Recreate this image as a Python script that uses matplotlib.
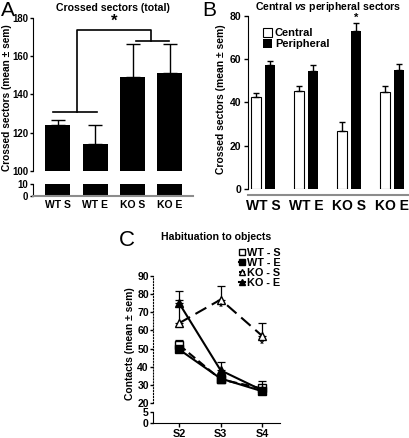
import matplotlib
matplotlib.use("Agg")
from matplotlib import pyplot as plt

plt.rcParams['font.family'] = ['Liberation Sans', 'DejaVu Sans']
plt.rcParams['font.weight'] = 'bold'
plt.rcParams['mathtext.fontset'] = 'custom'
plt.rcParams['mathtext.bfit'] = 'Liberation Sans:italic:bold'
plt.rcParams['mathtext.it'] = 'Liberation Sans:italic'
plt.rcParams['mathtext.bf'] = 'Liberation Sans:bold'

# ---- data ----
groups = ['WT S', 'WT E', 'KO S', 'KO E']
total = [123.8, 114, 149.4, 151.3]
total_err = [2.7, 10, 17, 15]

central = [42.7, 45.5, 27, 45]
central_err = [1.8, 2.2, 3.8, 2.6]
peripheral = [57.1, 54.5, 73, 55]
peripheral_err = [2.0, 2.6, 3.5, 2.6]

sessions = ['S2', 'S3', 'S4']
wt_s = [52, 33, 28]
wt_s_err = [3, 1.5, 2]
wt_e = [49.5, 33.5, 26.5]
wt_e_err = [1.5, 1, 2]
ko_s = [64, 77, 57]
ko_s_err = [13, 7.5, 7]
ko_e = [75, 38, 27]
ko_e_err = [7, 4.5, 5]

fig = plt.figure(figsize=(4.1, 4.38), dpi=100)
W, H = 410.0, 438.0

def box(x0, x1, ytop, ybot):
    return [x0 / W, 1 - ybot / H, (x1 - x0) / W, (ybot - ytop) / H]

grey = '#8c8c8c'
lab_fs = 7.4
pos = list(range(len(groups)))

# ---- Panel A ----
axA = fig.add_axes(box(33, 193, 18.3, 170.7))
axA2 = fig.add_axes(box(33, 193, 183.7, 196))
for ax in (axA, axA2):
    ax.bar(pos, total, width=0.67, color='black')
    ax.set_xlim(-0.67, 3.62)
    ax.spines['top'].set_visible(False)
    ax.spines['right'].set_visible(False)
    ax.tick_params(labelsize=6.9, width=1, length=2.5, pad=1)
axA.errorbar(pos, total, yerr=[[0] * 4, total_err], fmt='none', ecolor='black',
             elinewidth=1, capsize=5, capthick=1)
axA.set_ylim(100, 180)
axA.set_yticks([100, 120, 140, 160, 180])
axA.spines['bottom'].set_visible(False)
axA.set_xticks([])
axA2.set_ylim(0, 10)
axA2.set_yticks([0, 10])
axA2.spines['bottom'].set_color(grey)
axA2.spines['bottom'].set_linewidth(1.5)
axA2.tick_params(axis='x', length=0, pad=3, labelsize=7.5)
axA2.set_xticks(pos)
axA2.set_xticklabels(groups, fontweight='bold')
axA.set_ylabel('Crossed sectors (mean \u00b1 sem)', fontsize=7.3, fontweight='bold')
axA.yaxis.set_label_coords(-0.13, 0.48)
axA.set_title('Crossed sectors (total)', fontsize=7.6, fontweight='bold', pad=5)
# significance bracket
axA.plot([-0.13, 1.05], [131, 131], color='black', lw=1.2)
axA.plot([0.5, 0.5, 2.5, 2.5], [131, 174, 174, 168], color='black', lw=1.2)
axA.plot([2.1, 2.98], [168, 168], color='black', lw=1.2)
axA.text(1.5, 174.5, '*', fontsize=12, ha='center', va='bottom')
fig.text(0.002, 0.998, 'A', fontsize=15, fontweight='normal', va='top')

# ---- Panel B ----
axB = fig.add_axes(box(248, 409, 15.7, 189.3))
off = 0.167
axB.bar([p - off for p in pos], central, width=0.233, color='white', edgecolor='black',
        linewidth=0.8, label='Central')
axB.bar([p + off for p in pos], peripheral, width=0.233, color='black', label='Peripheral')
axB.errorbar([p - off for p in pos], central, yerr=[[0] * 4, central_err], fmt='none',
             ecolor='black', elinewidth=1, capsize=2.5, capthick=1)
axB.errorbar([p + off for p in pos], peripheral, yerr=[[0] * 4, peripheral_err], fmt='none',
             ecolor='black', elinewidth=1, capsize=2.5, capthick=1)
axB.text(2 + off, peripheral[2] + peripheral_err[2] + 0.3, '*', ha='center', va='bottom', fontsize=8)
axB.set_xlim(-0.356, 3.39)
axB.set_ylim(0, 80)
axB.set_yticks([0, 20, 40, 60, 80])
axB.set_xticks(pos)
axB.set_xticklabels(groups, fontsize=8, fontweight='bold')
axB.tick_params(axis='x', length=0, pad=3)
axB.tick_params(axis='y', labelsize=7.5, width=1, length=3, pad=2)
axB.spines['top'].set_visible(False)
axB.spines['right'].set_visible(False)
axB.spines['bottom'].set_position(('outward', 4))
axB.spines['bottom'].set_color(grey)
axB.spines['bottom'].set_linewidth(1.5)
axB.set_ylabel('Crossed sectors (mean \u00b1 sem)', fontsize=lab_fs, fontweight='bold')
axB.yaxis.set_label_coords(-0.135, 0.52)
axB.set_title('Central $\\mathbfit{vs}$ peripheral sectors', fontsize=7.6, fontweight='bold', pad=4)
axB.legend(loc='upper left', bbox_to_anchor=(0.05, 0.97), frameon=False, fontsize=8,
           handlelength=0.8, handleheight=0.9, handletextpad=0.3, labelspacing=0.05,
           borderpad=0.1)
fig.text(0.494, 0.998, 'B', fontsize=15, fontweight='normal', va='top')

# ---- Panel C ----
axC = fig.add_axes(box(153, 280, 276, 403))
axC2 = fig.add_axes(box(153, 280, 412, 423))
sx = list(range(len(sessions)))
series = [
    (wt_s, wt_s_err, 's', 'white', (0, (4, 2)), 'WT - S'),
    (wt_e, wt_e_err, 's', 'black', '-', 'WT - E'),
    (ko_s, ko_s_err, '^', 'white', (0, (6, 3)), 'KO - S'),
    (ko_e, ko_e_err, '^', 'black', '-', 'KO - E'),
]
for vals, err, mk, fc, ls, lab in series:
    axC.errorbar(sx, vals, yerr=[[0] * 3, err], fmt='none', ecolor='black',
                 elinewidth=0.9, capsize=3, capthick=0.9)
    axC.plot(sx, vals, color='black', linestyle=ls, linewidth=1.5, marker=mk,
             markersize=6, markerfacecolor=fc, markeredgecolor='black', label=lab)
axC.text(1, ko_s[1] - 2, '*', ha='center', va='top', fontsize=7)
axC.text(2, ko_s[2] - 2, '*', ha='center', va='top', fontsize=7)
for ax in (axC, axC2):
    ax.set_xlim(-0.63, 2.43)
    ax.spines['top'].set_visible(False)
    ax.spines['right'].set_visible(False)
    ax.tick_params(labelsize=7.5, width=1, length=2, pad=1)
axC.set_ylim(20, 90)
axC.set_yticks([20, 30, 40, 50, 60, 70, 80, 90])
axC.spines['bottom'].set_visible(False)
axC.spines['left'].set_linestyle(':')
axC.set_xticks([])
axC2.set_ylim(0, 5)
axC2.set_yticks([0, 5])
axC2.set_xticks(sx)
axC2.set_xticklabels(sessions, fontsize=7.8, fontweight='bold')
axC2.tick_params(axis='x', length=3, pad=1)
axC.set_ylabel('Contacts (mean \u00b1 sem)', fontsize=lab_fs, fontweight='bold')
axC.yaxis.set_label_coords(-0.14, 0.47)
axC.set_title('Habituation to objects', fontsize=7.6, fontweight='bold', pad=26)
axC.legend(loc='upper right', bbox_to_anchor=(1.06, 1.27), frameon=False, fontsize=7.8,
           handlelength=0.6, handletextpad=0.2, labelspacing=0.0, borderpad=0.1,
           markerscale=0.7)
fig.text(0.29, 0.475, 'C', fontsize=16, fontweight='normal', va='top')

fig.savefig('out.png', dpi=100)
